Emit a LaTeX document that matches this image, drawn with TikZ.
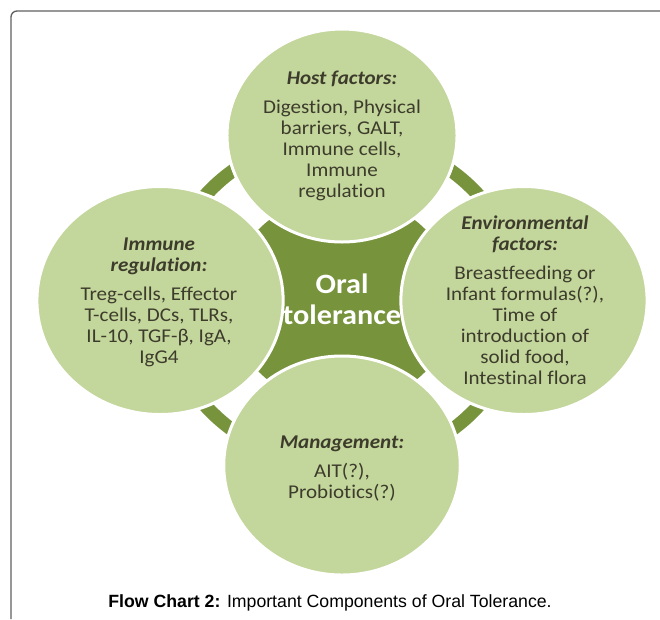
\documentclass[tikz,border=0pt]{standalone}
\usepackage{fontspec}
\newfontfamily\diagfont{Carlito}[FakeStretch=1.08, Ligatures={NoCommon}]
\newfontfamily\capfont{Liberation Sans}
\definecolor{petal}{HTML}{C3D69B}
\definecolor{hub}{HTML}{77933C}
\definecolor{ink}{HTML}{3D3C2C}
\definecolor{framegray}{HTML}{5F5F5F}
\begin{document}
\begin{tikzpicture}[x=1pt,y=-1pt,
  petalshape/.style={fill=petal, draw=white, line width=3pt},
  bodytxt/.style={anchor=base, inner sep=0pt, text=ink,
    font=\diagfont\fontsize{19.5}{21}\selectfont},
  headtxt/.style={anchor=base, inner sep=0pt, text=ink,
    font=\diagfont\fontsize{19.5}{21}\selectfont\bfseries\itshape},
  hubtxt/.style={anchor=base, inner sep=0pt, text=white,
    font=\diagfont\fontsize{28}{31}\selectfont\bfseries},
  captxt/.style={anchor=base, inner sep=0pt, text=black,
    font=\capfont\fontsize{17.7}{20}\selectfont},
]
\useasboundingbox (0,0) rectangle (660,619);

% open frame: left and top edges only
\draw[framegray, line width=1.3pt, rounded corners=6pt] (11,619) -- (11,11) -- (660,11);

% radial diagram, slightly wider than tall
\begin{scope}[shift={(342,300.5)}, xscale=1.08]
  % outer ring and hub
  \fill[hub, even odd rule] (0,0) circle[radius=171] (0,0) circle[radius=158];
  \fill[hub] (0,0) circle[radius=105];
  % four satellites
  \draw[petalshape] (0,-165) circle[radius=106.5];
  \draw[petalshape] (-168.5,0) circle[radius=114];
  \draw[petalshape] (168.5,0) circle[radius=114];
  \draw[petalshape] (0,165) circle[radius=109.5];
\end{scope}

% hub label
\node[hubtxt] (hub-1) at (342,293) {Oral};
\node[hubtxt] (hub-2) at (342,324) {tolerance};

% host factors
\node[headtxt] (host-h) at (342,84) {Host factors:};
\foreach \t [count=\i] in {{Digestion, Physical},{barriers, GALT,},{Immune cells,},{Immune},{regulation}}
  \node[bodytxt] (host-\i) at (342,{113+21*(\i-1)}) {\t};

% immune regulation
\node[headtxt] (imm-h1) at (159,250) {Immune};
\node[headtxt] (imm-h2) at (159,271) {regulation:};
\foreach \t [count=\i] in {{Treg-cells, Effector},{T-cells, DCs, TLRs,},{IL-10, TGF-β, IgA,},{IgG4}}
  \node[bodytxt] (imm-\i) at (159,{300+21*(\i-1)}) {\t};

% environmental factors
\node[headtxt] (env-h1) at (525,229) {Environmental};
\node[headtxt] (env-h2) at (525,250) {factors:};
\foreach \t [count=\i] in {{Breastfeeding or},{Infant formulas(?),},{Time of},{introduction of},{solid food,},{Intestinal flora}}
  \node[bodytxt] (env-\i) at (525,{279+21*(\i-1)}) {\t};

% management
\node[headtxt] (mgmt-h) at (342,448) {Management:};
\node[bodytxt] (mgmt-1) at (342,477) {AIT(?),};
\node[bodytxt] (mgmt-2) at (342,498) {Probiotics(?)};

% caption
\node[captxt] (caption) at (330,607) {\textbf{Flow Chart 2:} Important Components of Oral Tolerance.};
\end{tikzpicture}
\end{document}
